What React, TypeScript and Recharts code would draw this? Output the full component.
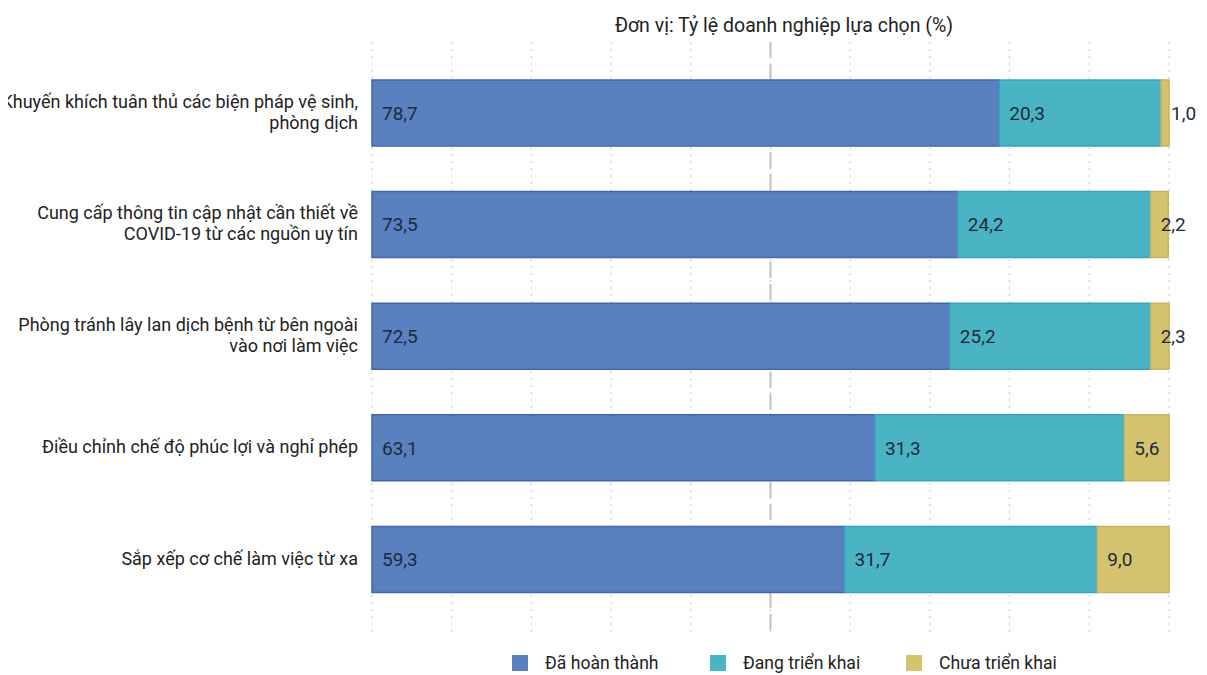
import React from "react";
import { BarChart, Bar, XAxis, YAxis, CartesianGrid, LabelList } from "recharts";

const categoryLines: string[][] = [
  ["Khuyến khích tuân thủ các biện pháp vệ sinh,", "phòng dịch"],
  ["Cung cấp thông tin cập nhật cần thiết về", "COVID-19 từ các nguồn uy tín"],
  ["Phòng tránh lây lan dịch bệnh từ bên ngoài", "vào nơi làm việc"],
  ["Điều chỉnh chế độ phúc lợi và nghỉ phép"],
  ["Sắp xếp cơ chế làm việc từ xa"],
];
const categories = categoryLines.map((l) => l.join(" "));
const daHoanThanh = [78.7, 73.5, 72.5, 63.1, 59.3];
const dangTrienKhai = [20.3, 24.2, 25.2, 31.3, 31.7];
const chuaTrienKhai = [1.0, 2.2, 2.3, 5.6, 9.0];
const xTicks = [0, 10, 20, 30, 40, 50, 60, 70, 80, 90, 100];
const midLine = [50];
const seriesNames = ["Đã hoàn thành", "Đang triển khai", "Chưa triển khai"];
const title = "Đơn vị: Tỷ lệ doanh nghiệp lựa chọn (%)";

const COLORS = ["#5a80c0", "#4bb4c4", "#d5c26f"];
const STROKES = ["#3f67ac", "#3aa2b6", "#c9b45e"];
const FONT = "Roboto, sans-serif";

const data = categories.map((c, i) => ({
  name: c,
  a: daHoanThanh[i],
  b: dangTrienKhai[i],
  c: chuaTrienKhai[i],
}));

const fmt = (v: any) => Number(v).toFixed(1).replace(".", ",");

const CatTick = (props: any) => {
  const { x, y, payload } = props;
  const idx = categories.indexOf(payload.value);
  const lines = idx >= 0 ? categoryLines[idx] : [String(payload.value)];
  const lh = 21;
  const start = -((lines.length - 1) * lh) / 2 - 1;
  return (
    <text x={x} y={y} textAnchor="end" fill="#222" fontSize={18} fontFamily={FONT}>
      {lines.map((l, i) => (
        <tspan key={i} x={x} y={y + start + i * lh} dy="0.36em">
          {l}
        </tspan>
      ))}
    </text>
  );
};

export default function App() {
  const keys = ["a", "b", "c"];
  return (
    <div style={{ position: "relative", width: 1191, height: 667, fontFamily: FONT }}>
      <div
        style={{
          position: "absolute",
          left: 0,
          width: 1552,
          top: 6,
          textAlign: "center",
          fontSize: 19.5,
          color: "#222",
          whiteSpace: "nowrap",
        }}
      >
        {title}
      </div>
      <BarChart
        width={1191}
        height={667}
        data={data}
        layout="vertical"
        margin={{ top: 34, right: 30, bottom: 43, left: 0 }}
        barSize={66}
      >
        <CartesianGrid horizontal={false} stroke="#c8c8c8" strokeDasharray="2 5" />
        <CartesianGrid
          horizontal={false}
          verticalValues={midLine}
          stroke="#c9b9c2"
          strokeWidth={2}
          strokeDasharray="16 6"
        />
        <XAxis type="number" domain={[0, 100]} ticks={xTicks} hide />
        <YAxis
          type="category"
          dataKey="name"
          width={364}
          axisLine={false}
          tickLine={false}
          tickSize={0}
          tickMargin={14}
          tick={<CatTick />}
          padding={{ top: 15, bottom: 17 }}
          interval={0}
        />
        {keys.map((k, i) => (
          <Bar
            key={k}
            dataKey={k}
            name={seriesNames[i]}
            stackId="s"
            fill={COLORS[i]}
            stroke={STROKES[i]}
            strokeWidth={1.5}
            isAnimationActive={false}
          >
            <LabelList
              dataKey={k}
              position="insideLeft"
              offset={10}
              formatter={fmt}
              fill="#1d2b3a"
              fontSize={19}
              fontFamily={FONT}
            />
          </Bar>
        ))}
      </BarChart>
      <div
        style={{
          position: "absolute",
          top: 645,
          left: 0,
          width: 1191,
          height: 22,
          fontSize: 17.6,
          color: "#222",
        }}
      >
        {seriesNames.map((n, i) => (
          <div
            key={n}
            style={{
              position: "absolute",
              left: [504, 702, 898][i],
              top: 0,
              display: "flex",
              alignItems: "center",
              whiteSpace: "nowrap",
            }}
          >
            <span
              style={{
                display: "inline-block",
                width: 16,
                height: 16,
                background: COLORS[i],
                marginRight: 17,
              }}
            />
            {n}
          </div>
        ))}
      </div>
    </div>
  );
}
